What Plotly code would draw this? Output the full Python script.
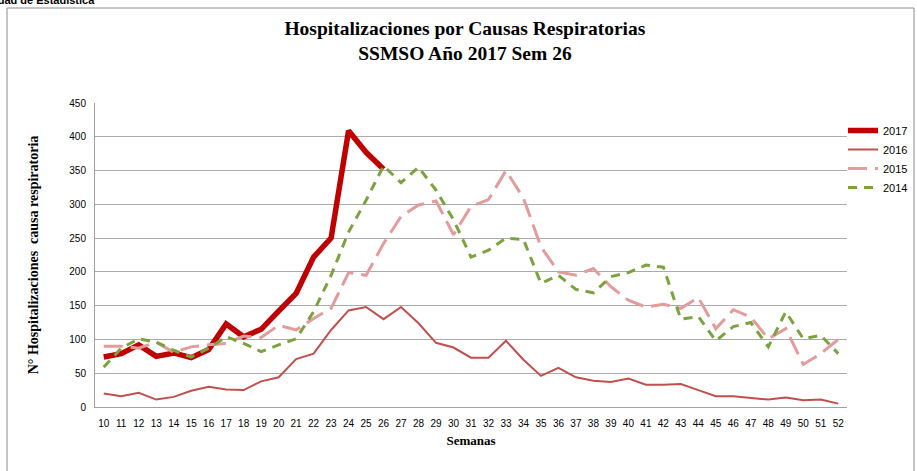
import plotly.graph_objects as go

weeks = list(range(10, 53))
weeks_2017 = list(range(10, 27))
y2017 = [74, 79, 92, 75, 80, 73, 85, 123, 104, 115, 142, 168, 222, 250, 409, 377, 352]
y2016 = [20, 16, 21, 11, 15, 24, 30, 26, 25, 38, 44, 71, 79, 114, 143, 148, 130, 148, 124, 95,
         88, 73, 73, 98, 70, 46, 58, 44, 39, 37, 42, 33, 33, 34, 25, 16, 16, 13, 11, 14, 10, 11, 5]
y2015 = [90, 90, 87, 96, 81, 89, 92, 94, 105, 103, 121, 114, 131, 146, 199, 195, 242, 282, 299, 305,
         255, 297, 307, 350, 309, 237, 200, 195, 205, 178, 158, 148, 152, 146, 162, 116, 144, 133,
         101, 116, 63, 79, 100]
y2014 = [59, 87, 101, 96, 84, 74, 87, 104, 94, 82, 92, 101, 141, 195, 259, 306, 357, 332, 355, 321,
         277, 222, 232, 250, 248, 183, 195, 174, 169, 193, 199, 210, 207, 130, 134, 98, 119, 125,
         89, 141, 101, 106, 79]
yticks = [0, 50, 100, 150, 200, 250, 300, 350, 400, 450]

serif = "Liberation Serif, Cambria, Times New Roman, serif"
narrow = "Liberation Sans Narrow, Arial Narrow, Liberation Sans, sans-serif"
sans = "Liberation Sans, Arial, sans-serif"

fig = go.Figure()
fig.add_trace(go.Scatter(x=weeks_2017, y=y2017, name="2017", mode="lines",
                         line=dict(color="#C00000", width=5.5)))
fig.add_trace(go.Scatter(x=weeks, y=y2016, name="2016", mode="lines",
                         line=dict(color="#C0504D", width=2)))
fig.add_trace(go.Scatter(x=weeks, y=y2015, name="2015", mode="lines",
                         line=dict(color="#E39B9B", width=3, dash="19px,8px")))
fig.add_trace(go.Scatter(x=weeks, y=y2014, name="2014", mode="lines",
                         line=dict(color="#7BA23F", width=3, dash="9px,7px")))

L, R, T, B = 95, 847, 103, 407
W, H = 917, 471
pw, ph = R - L, B - T

def px(x):
    return (x - L) / pw

def py(y):
    return (B - y) / ph

fig.update_layout(
    width=W, height=H,
    margin=dict(l=L, r=W - R, t=T, b=H - B, pad=0, autoexpand=False),
    paper_bgcolor="white", plot_bgcolor="white",
    title=dict(text="<b>Hospitalizaciones por Causas Respiratorias<br>SSMSO Año 2017 Sem 26</b>",
               x=0.507, xanchor="center", y=1 - 35 / H, yanchor="middle",
               font=dict(family=serif, size=19.5, color="black")),
    showlegend=True,
    legend=dict(x=px(843), xanchor="left", y=py(116), yanchor="top",
                font=dict(family=narrow, size=11, color="black"),
                bgcolor="rgba(0,0,0,0)", tracegroupgap=0, itemwidth=30),
    xaxis=dict(range=[9.5, 52.5], tickmode="array", tickvals=weeks,
               ticktext=[str(w) for w in weeks], showgrid=False, zeroline=False,
               showline=True, linecolor="#A0A0A0", linewidth=1,
               ticks="", ticklabelstandoff=7,
               tickfont=dict(family=narrow, size=10, color="black"),
               title=dict(text="<b>Semanas</b>", standoff=7,
                          font=dict(family=serif, size=13, color="black"))),
    yaxis=dict(range=[0, 450], tickmode="array", tickvals=yticks,
               showgrid=True, gridcolor="#ABABAB", gridwidth=1, zeroline=False,
               showline=True, linecolor="#A0A0A0", linewidth=1,
               ticks="", ticklabelstandoff=6,
               tickfont=dict(family=sans, size=10, color="black"),
               title=dict(text="<b>N° Hospitalizaciones  causa respiratoria</b>", standoff=27,
                          font=dict(family=serif, size=14, color="black"))),
    shapes=[dict(type="rect", xref="paper", yref="paper",
                 x0=px(7), x1=px(914), y0=py(476), y1=py(8),
                 line=dict(color="#8C8C8C", width=1), fillcolor="rgba(0,0,0,0)", layer="below")],
    annotations=[dict(text="<b>Unidad de Estadística</b>", xref="paper", yref="paper",
                      x=px(97), xanchor="right", y=py(0), yanchor="middle", showarrow=False,
                      font=dict(family=sans, size=11, color="black"))],
)

fig.write_html("out.html", config={"displayModeBar": False},
               post_script="document.body.style.margin='0';document.body.style.overflow='hidden';")
